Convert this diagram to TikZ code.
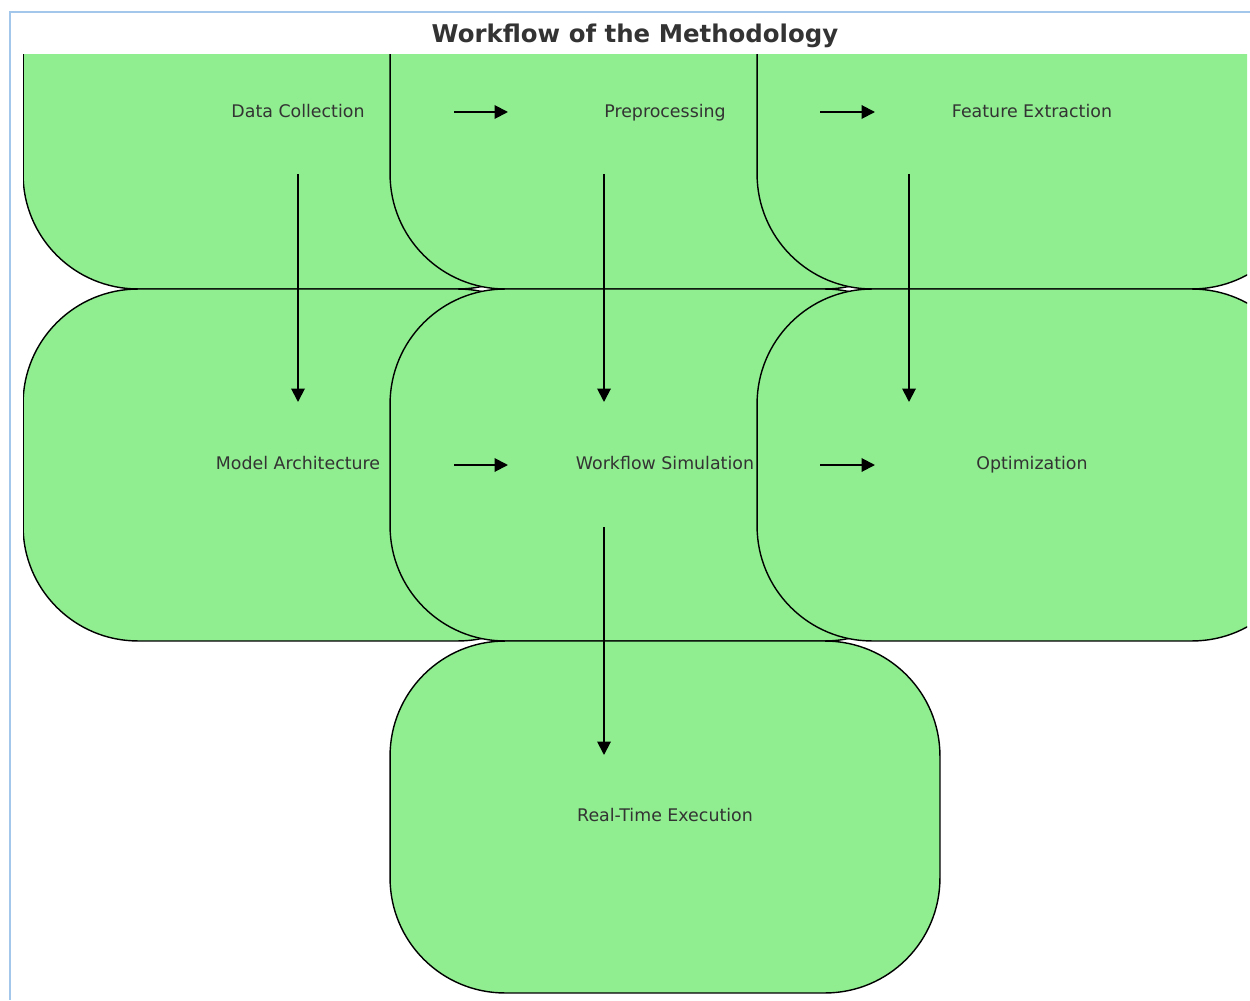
\documentclass[tikz,border=0pt]{standalone}
\usepackage{fontspec}
\setmainfont{DejaVu Sans}
\usetikzlibrary{arrows.meta}
\definecolor{boxgreen}{HTML}{90EE90}
\definecolor{framblue}{HTML}{A2C7EA}
\definecolor{txtgray}{HTML}{333333}
\begin{document}
\begin{tikzpicture}[x=0.02cm, y=-0.02cm,
    box/.style={rectangle, draw=black, line width=0.8pt, fill=boxgreen, rounded corners=2.3cm,
                minimum width=11cm, minimum height=7.04cm, inner sep=0pt,
                text height=0.76em, text depth=0.2em,
                text=txtgray, font=\fontsize{9.9}{12}\selectfont},
    arr/.style={line width=1.1pt, -{Triangle[length=0.27cm,width=0.27cm]}}]
       \useasboundingbox (0,0) rectangle (1250,1000);
       \draw[framblue, line width=0.04cm] (10,1000) -- (10,12) -- (1250,12);
       \node[anchor=base, text=txtgray, font=\fontsize{13.9}{16}\selectfont\bfseries] (title) at (635,43) {Workflow of the Methodology};

       \begin{scope}
       \clip (23,55) rectangle (1247,997);
       \node[box] (1) at (298,113) {Data Collection};
       \node[box] (2) at (665,113) {Preprocessing};
       \node[box] (3) at (1032,113) {Feature Extraction};
       \node[box] (4) at (298,465) {Model Architecture};
       \node[box] (5) at (665,465) {Workflow Simulation};
       \node[box] (6) at (1032,465) {Optimization};
       \node[box] (7) at (665,817) {Real-Time Execution};

       % arrow ends
       \coordinate (s1) at (454,112); \coordinate (t1) at (508,112);
       \coordinate (s2) at (820,112); \coordinate (t2) at (875,112);
       \coordinate (s3) at (454,465); \coordinate (t3) at (508,465);
       \coordinate (s4) at (820,465); \coordinate (t4) at (875,465);
       \coordinate (s5) at (298,174); \coordinate (t5) at (298,402);
       \coordinate (s6) at (604,174); \coordinate (t6) at (604,402);
       \coordinate (s7) at (909,174); \coordinate (t7) at (909,402);
       \coordinate (s8) at (604,527); \coordinate (t8) at (604,755);

       \draw[arr] (s1) -- (t1);
       \draw[arr] (s2) -- (t2);
       \draw[arr] (s3) -- (t3);
       \draw[arr] (s4) -- (t4);
       \draw[arr] (s5) -- (t5);
       \draw[arr] (s6) -- (t6);
       \draw[arr] (s7) -- (t7);
       \draw[arr] (s8) -- (t8);
       \end{scope}
     \end{tikzpicture}
\end{document}
